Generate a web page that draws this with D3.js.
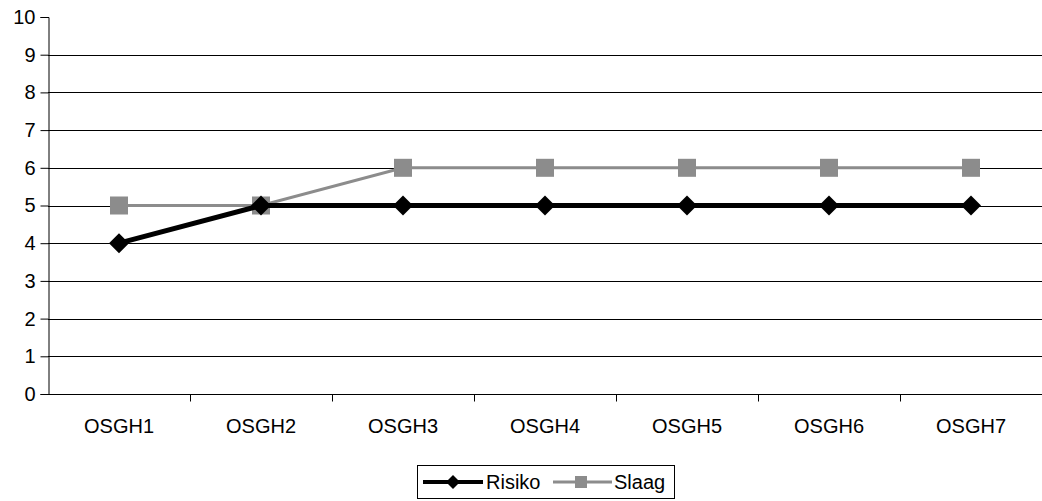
<!DOCTYPE html>
<html>
<head>
<meta charset="utf-8">
<script src="https://cdn.jsdelivr.net/npm/d3@7"></script>
<style>
  html, body { margin: 0; padding: 0; background: #fff; }
  text { font-family: "Liberation Sans", Arial, sans-serif; fill: #000; }
</style>
</head>
<body>
<svg id="chart" width="1042" height="501"></svg>
<script>
// Categories and series values
const categories = ["OSGH1", "OSGH2", "OSGH3", "OSGH4", "OSGH5", "OSGH6", "OSGH7"];
const risiko = [4, 5, 5, 5, 5, 5, 5];
const slaag = [5, 5, 6, 6, 6, 6, 6];
const yTicks = [0, 1, 2, 3, 4, 5, 6, 7, 8, 9, 10];
const seriesNames = ["Risiko", "Slaag"];

const svg = d3.select("#chart");
const margin = { left: 48, right: 0, top: 17, bottom: 107 };
const W = 1042, H = 501;
const FONT = "20px";
const GRAY = "#8c8c8c";

const x = d3.scaleBand().domain(categories).range([margin.left, W - margin.right]);
const y = d3.scaleLinear().domain([0, 10]).range([H - margin.bottom, margin.top]);

// Horizontal gridlines
svg.append("g")
  .selectAll("line")
  .data(yTicks.filter(d => d > 0 && d < 10))
  .join("line")
  .attr("x1", margin.left).attr("x2", W)
  .attr("y1", d => Math.round(y(d)) + 0.5).attr("y2", d => Math.round(y(d)) + 0.5)
  .attr("stroke", "#000").attr("stroke-width", 1);

// Y axis
const yAxis = svg.append("g")
  .attr("transform", `translate(${margin.left + 0.5},0)`)
  .call(d3.axisLeft(y).tickValues(yTicks).tickSize(8).tickPadding(5));
yAxis.selectAll("text")
  .style("font-size", FONT)
  .style("font-family", "'Liberation Sans', Arial, sans-serif");
yAxis.select(".domain").attr("stroke", "#000");

// X axis with ticks between categories
const xAxisG = svg.append("g")
  .attr("transform", `translate(0,${Math.round(y(0)) + 0.5})`);
xAxisG.append("line").attr("x1", margin.left).attr("x2", W).attr("stroke", "#000");
xAxisG.selectAll("line.tk")
  .data(categories.slice(1))
  .join("line").attr("class", "tk")
  .attr("x1", d => Math.round(x(d)) + 0.5).attr("x2", d => Math.round(x(d)) + 0.5)
  .attr("y1", 0).attr("y2", 7).attr("stroke", "#000");
xAxisG.selectAll("text")
  .data(categories)
  .join("text")
  .attr("x", d => x(d) + x.bandwidth() / 2)
  .attr("y", 38)
  .attr("text-anchor", "middle")
  .style("font-size", FONT)
  .text(d => d);

const cx = (d, i) => x(categories[i]) + x.bandwidth() / 2;
const line = d3.line().x((d, i) => cx(d, i)).y(d => y(d));

// Diamond marker outline, half-width r
const diamondPath = r => `M0,${-r}L${r},0L0,${r}L${-r},0Z`;

// Slaag series (gray, squares)
svg.append("path").datum(slaag)
  .attr("d", line).attr("fill", "none")
  .attr("stroke", GRAY).attr("stroke-width", 3);
svg.append("g").selectAll("rect")
  .data(slaag).join("rect")
  .attr("x", (d, i) => cx(d, i) - 9).attr("y", d => y(d) - 9)
  .attr("width", 18).attr("height", 18)
  .attr("fill", GRAY);

// Risiko series (black, diamonds)
svg.append("path").datum(risiko)
  .attr("d", line).attr("fill", "none")
  .attr("stroke", "#000").attr("stroke-width", 5);
svg.append("g").selectAll("path.pt")
  .data(risiko).join("path").attr("class", "pt")
  .attr("transform", (d, i) => `translate(${cx(d, i)},${y(d)})`)
  .attr("d", diamondPath(10))
  .attr("fill", "#000");

// Legend
const lg = svg.append("g").attr("transform", "translate(417,465)");
lg.append("rect").attr("x", 0.5).attr("y", 0.5).attr("width", 257).attr("height", 33)
  .attr("fill", "#fff").attr("stroke", "#000");
const ly = 17;
lg.append("line").attr("x1", 6).attr("x2", 66).attr("y1", ly).attr("y2", ly)
  .attr("stroke", "#000").attr("stroke-width", 4);
lg.append("path").attr("transform", `translate(36,${ly})`).attr("d", diamondPath(7)).attr("fill", "#000");
lg.append("text").attr("x", 69).attr("y", ly + 7).style("font-size", FONT).text(seriesNames[0]);
lg.append("line").attr("x1", 136).attr("x2", 195).attr("y1", ly).attr("y2", ly)
  .attr("stroke", GRAY).attr("stroke-width", 3);
lg.append("rect").attr("x", 158).attr("y", ly - 6).attr("width", 12).attr("height", 12).attr("fill", GRAY);
lg.append("text").attr("x", 197).attr("y", ly + 7).style("font-size", FONT).text(seriesNames[1]);
</script>
</body>
</html>
